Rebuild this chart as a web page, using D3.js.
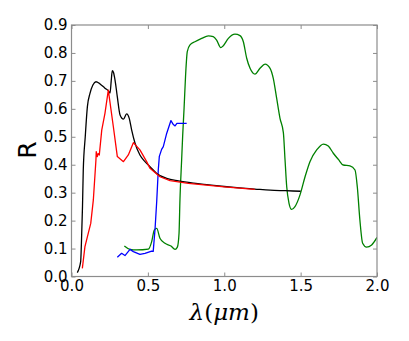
<!DOCTYPE html>
<html><head><meta charset="utf-8">
<script src="https://cdn.jsdelivr.net/npm/d3@7"></script>
<style>body{margin:0;background:#fff}svg{display:block}</style>
</head><body>
<script>
const xTicks = [0.0, 0.5, 1.0, 1.5, 2.0];
const yTicks = [0.0, 0.1, 0.2, 0.3, 0.4, 0.5, 0.6, 0.7, 0.8, 0.9];
const blackSeries = [[0.038,0.014],[0.06,0.053],[0.065,0.12],[0.072,0.25],[0.077,0.38],[0.09,0.5],[0.104,0.608],[0.121,0.655],[0.14,0.685],[0.16,0.697],[0.187,0.689],[0.219,0.674],[0.241,0.665],[0.252,0.656],[0.26,0.7],[0.267,0.737],[0.275,0.73],[0.285,0.703],[0.30,0.643],[0.318,0.578],[0.34,0.563],[0.361,0.582],[0.378,0.566],[0.394,0.524],[0.416,0.477],[0.448,0.435],[0.481,0.411],[0.514,0.393],[0.558,0.369],[0.623,0.351],[0.7,0.342],[0.8,0.334],[0.9,0.328],[1.0,0.322],[1.1,0.317],[1.2,0.313],[1.3,0.309],[1.4,0.307],[1.5,0.305]];
const redSeries = [[0.071,0.029],[0.088,0.107],[0.11,0.155],[0.126,0.19],[0.143,0.274],[0.16,0.417],[0.162,0.447],[0.169,0.429],[0.175,0.44],[0.182,0.435],[0.198,0.524],[0.219,0.584],[0.241,0.667],[0.274,0.536],[0.30,0.429],[0.34,0.411],[0.372,0.435],[0.405,0.479],[0.448,0.453],[0.492,0.411],[0.514,0.387],[0.579,0.357],[0.645,0.343],[0.765,0.333],[0.9,0.326],[1.0,0.321],[1.1,0.316],[1.2,0.312]];
const blueSeries = [[0.30,0.069],[0.328,0.083],[0.35,0.075],[0.383,0.097],[0.405,0.089],[0.448,0.079],[0.481,0.083],[0.525,0.091],[0.535,0.09],[0.547,0.17],[0.558,0.27],[0.568,0.38],[0.575,0.43],[0.59,0.455],[0.601,0.465],[0.623,0.512],[0.651,0.558],[0.665,0.545],[0.678,0.539],[0.69,0.548],[0.704,0.548],[0.754,0.548]];
const greenSeries = [[0.346,0.109],[0.383,0.097],[0.427,0.095],[0.503,0.098],[0.525,0.125],[0.542,0.166],[0.558,0.172],[0.579,0.137],[0.612,0.119],[0.651,0.109],[0.678,0.097],[0.693,0.105],[0.704,0.155],[0.71,0.274],[0.721,0.417],[0.728,0.506],[0.737,0.602],[0.747,0.721],[0.758,0.805],[0.776,0.829],[0.808,0.840],[0.852,0.852],[0.896,0.861],[0.928,0.858],[0.95,0.846],[0.977,0.819],[0.994,0.826],[1.027,0.852],[1.07,0.867],[1.103,0.862],[1.125,0.840],[1.147,0.781],[1.169,0.745],[1.201,0.724],[1.234,0.745],[1.267,0.760],[1.30,0.745],[1.321,0.709],[1.343,0.638],[1.365,0.566],[1.387,0.515],[1.398,0.417],[1.409,0.321],[1.424,0.262],[1.441,0.240],[1.463,0.250],[1.496,0.292],[1.529,0.357],[1.561,0.411],[1.605,0.453],[1.649,0.474],[1.681,0.467],[1.714,0.441],[1.747,0.419],[1.779,0.399],[1.823,0.396],[1.856,0.381],[1.871,0.321],[1.888,0.202],[1.906,0.119],[1.932,0.105],[1.965,0.113],[2.0,0.14]];

const W = 409, H = 341;
const L = 71.5, R = 377, T = 25, B = 276.5;
const svg = d3.select("body").append("svg").attr("width", W).attr("height", H);
const x = d3.scaleLinear().domain([0, 2]).range([L, R]);
const y = d3.scaleLinear().domain([0, 0.9]).range([B, T]);

const clip = svg.append("clipPath").attr("id","c").append("rect")
  .attr("x", L).attr("y", T).attr("width", R-L).attr("height", B-T);

const lineSmooth = d3.line().x(d=>x(d[0])).y(d=>y(d[1])).curve(d3.curveMonotoneX);
const lineStraight = d3.line().x(d=>x(d[0])).y(d=>y(d[1]));
const g = svg.append("g").attr("clip-path","url(#c)");
function draw(data, color, gen){
  g.append("path").datum(data).attr("d", gen).attr("fill","none")
   .attr("stroke", color).attr("stroke-width", 1.3).attr("stroke-linejoin","round");
}
draw(greenSeries, "#008000", lineSmooth);
draw(blueSeries, "#0000ff", lineStraight);
draw(blackSeries, "#000000", lineSmooth);
draw(redSeries, "#ff0000", lineStraight);

const fmt = d3.format(".1f");
const font = "'DejaVu Sans', sans-serif";
function styleAxis(sel){
  sel.select(".domain").remove();
  sel.selectAll(".tick line").attr("stroke","#8c8c8c").attr("stroke-width",1);
  sel.selectAll("text").attr("font-family", font).attr("font-size", 15).attr("fill","#000");
}
svg.append("g").attr("transform",`translate(0,${B})`)
  .call(d3.axisBottom(x).tickValues(xTicks).tickFormat(fmt).tickSize(-4).tickPadding(4)).call(styleAxis);
svg.append("g").attr("transform",`translate(0,${T})`)
  .call(d3.axisTop(x).tickValues(xTicks).tickFormat("").tickSize(-4)).call(styleAxis);
svg.append("g").attr("transform",`translate(${L},0)`)
  .call(d3.axisLeft(y).tickValues(yTicks).tickFormat(fmt).tickSize(-4).tickPadding(4)).call(styleAxis);
svg.append("g").attr("transform",`translate(${R},0)`)
  .call(d3.axisRight(y).tickValues(yTicks).tickFormat("").tickSize(-4)).call(styleAxis);

svg.append("rect").attr("x", L).attr("y", T).attr("width", R-L).attr("height", B-T)
  .attr("fill","none").attr("stroke","#8c8c8c").attr("stroke-width",1.2);

svg.append("text").attr("transform","translate(36,150) rotate(-90)")
  .attr("text-anchor","middle").attr("font-family", font).attr("font-size", 25).text("R");

const xl = svg.append("text").attr("x", (L+R)/2).attr("y", 320).attr("text-anchor","middle")
  .attr("font-family","'DejaVu Serif', 'Liberation Serif', serif").attr("font-size", 23);
xl.append("tspan").attr("font-style","italic").text("λ");
xl.append("tspan").text("(");
xl.append("tspan").attr("font-style","italic").text("μm");
xl.append("tspan").text(")");
</script>
</body></html>
